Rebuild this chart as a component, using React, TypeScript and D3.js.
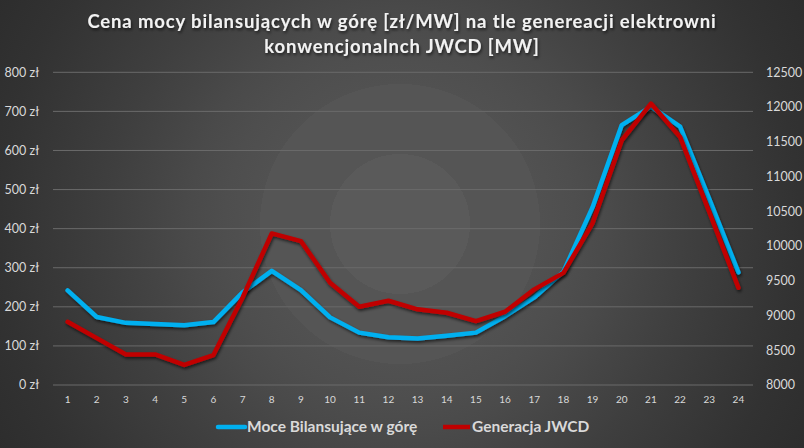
import React, { useRef, useEffect } from 'react';
import * as d3 from 'd3';

const hours = ['1', '2', '3', '4', '5', '6', '7', '8', '9', '10', '11', '12', '13', '14', '15', '16', '17', '18', '19', '20', '21', '22', '23', '24'];
// Cena mocy bilansujących w górę [zł/MW] - lewa oś
const priceUp = [242, 174, 159, 156, 153, 161, 237, 292, 243, 173, 134, 122, 119, 126, 134, 176, 224, 290, 455, 665, 712, 661, 476, 288];
// Generacja JWCD [MW] - prawa oś
const jwcd = [8910, 8675, 8440, 8440, 8288, 8431, 9260, 10181, 10070, 9471, 9126, 9212, 9089, 9040, 8920, 9054, 9376, 9614, 10330, 11522, 12050, 11570, 10490, 9399];
const leftTicks = [0, 100, 200, 300, 400, 500, 600, 700, 800];
const rightTicks = [8000, 8500, 9000, 9500, 10000, 10500, 11000, 11500, 12000, 12500];
const titleLines = ['Cena mocy bilansujących w górę [zł/MW] na tle genereacji elektrowni', 'konwencjonalnch JWCD [MW]'];
const seriesNames = ['Moce Bilansujące w górę', 'Generacja JWCD'];
const colors = ['#00b0f0', '#c00000'];

const W = 804;
const H = 448;
const FONT = 'Lato, "Open Sans", sans-serif';

const App: React.FC = () => {
  const svgRef = useRef<SVGSVGElement>(null);

  useEffect(() => {
    const svg = d3.select(svgRef.current);
    svg.selectAll('*').remove();

    const plot = { left: 53, right: 753, top: 72.3, bottom: 385 };

    const defs = svg.append('defs');

    // tło: koncentryczne pierścienie
    const bg = defs.append('radialGradient')
      .attr('id', 'bg')
      .attr('gradientUnits', 'userSpaceOnUse')
      .attr('cx', 400).attr('cy', 224).attr('r', 520);
    const rings: [number, string][] = [
      [0, '#5a5a5a'], [70, '#5a5a5a'], [70, '#555555'], [140, '#555555'], [140, '#515151'],
      [175, '#4e4e4e'], [210, '#4a4a4a'], [245, '#454545'], [290, '#3f3f3f'],
      [340, '#393939'], [400, '#323232'], [520, '#282828']
    ];
    rings.forEach(([r, c]) => {
      bg.append('stop').attr('offset', r / 520).attr('stop-color', c);
    });

    const shadow = defs.append('filter').attr('id', 'shadow')
      .attr('x', '-10%').attr('y', '-10%').attr('width', '120%').attr('height', '130%');
    shadow.append('feDropShadow')
      .attr('dx', 1).attr('dy', 2).attr('stdDeviation', 1.5)
      .attr('flood-color', '#000').attr('flood-opacity', 0.6);

    svg.append('rect')
      .attr('width', W).attr('height', H)
      .attr('fill', 'url(#bg)');

    const x = d3.scalePoint<string>()
      .domain(hours)
      .range([plot.left, plot.right])
      .padding(0.5);

    const yLeft = d3.scaleLinear().domain([0, 800]).range([plot.bottom, plot.top]);
    const yRight = d3.scaleLinear().domain([8000, 12500]).range([plot.bottom, plot.top]);

    // siatka
    svg.append('g')
      .selectAll('line')
      .data(leftTicks)
      .enter().append('line')
      .attr('x1', plot.left).attr('x2', plot.right)
      .attr('y1', d => yLeft(d)).attr('y2', d => yLeft(d))
      .attr('stroke', '#6a6a6a')
      .attr('stroke-width', 1);

    // etykiety osi
    svg.append('g')
      .selectAll('text')
      .data(leftTicks)
      .enter().append('text')
      .attr('x', 39)
      .attr('y', d => yLeft(d))
      .attr('dy', '0.35em')
      .attr('text-anchor', 'end')
      .style('font-family', FONT)
      .style('font-size', '12.5px')
      .style('fill', '#d9d9d9')
      .text(d => `${d} zł`);

    svg.append('g')
      .selectAll('text')
      .data(rightTicks)
      .enter().append('text')
      .attr('x', 766)
      .attr('y', d => yRight(d))
      .attr('dy', '0.35em')
      .style('font-family', FONT)
      .style('font-size', '12.5px')
      .style('fill', '#d9d9d9')
      .text(d => `${d}`);

    svg.append('g')
      .selectAll('text')
      .data(hours)
      .enter().append('text')
      .attr('x', d => x(d) as number)
      .attr('y', 399)
      .attr('dy', '0.35em')
      .attr('text-anchor', 'middle')
      .style('font-family', FONT)
      .style('font-size', '10px')
      .style('fill', '#d9d9d9')
      .text(d => d);

    // linie
    const lineLeft = d3.line<number>()
      .x((_, i) => x(hours[i]) as number)
      .y(d => yLeft(d));
    const lineRight = d3.line<number>()
      .x((_, i) => x(hours[i]) as number)
      .y(d => yRight(d));

    svg.append('path')
      .datum(priceUp)
      .attr('fill', 'none')
      .attr('stroke', colors[0])
      .attr('stroke-width', 4.5)
      .attr('stroke-linejoin', 'round')
      .attr('stroke-linecap', 'round')
      .attr('filter', 'url(#shadow)')
      .attr('d', lineLeft);

    svg.append('path')
      .datum(jwcd)
      .attr('fill', 'none')
      .attr('stroke', colors[1])
      .attr('stroke-width', 4.5)
      .attr('stroke-linejoin', 'round')
      .attr('stroke-linecap', 'round')
      .attr('filter', 'url(#shadow)')
      .attr('d', lineRight);

    // tytuł
    svg.append('g')
      .selectAll('text')
      .data(titleLines)
      .enter().append('text')
      .attr('x', 402)
      .attr('y', (_, i) => 28 + i * 25)
      .attr('text-anchor', 'middle')
      .attr('filter', 'url(#shadow)')
      .style('font-family', FONT)
      .style('font-size', '18.5px')
      .style('font-weight', 'bold')
      .style('letter-spacing', '0.85px')
      .style('fill', '#f2f2f2')
      .text(d => d);

    // legenda
    const legendX = [218, 443];
    const legend = svg.append('g');
    seriesNames.forEach((name, i) => {
      legend.append('line')
        .attr('x1', legendX[i]).attr('x2', legendX[i] + 27)
        .attr('y1', 427).attr('y2', 427)
        .attr('stroke', colors[i])
        .attr('stroke-width', 4.5)
        .attr('stroke-linecap', i === 0 ? 'round' : 'butt');
      legend.append('text')
        .attr('x', legendX[i] + 29)
        .attr('y', 427)
        .attr('dy', '0.35em')
        .style('font-family', FONT)
        .style('font-size', '15.5px')
        .style('font-weight', 'bold')
        .style('fill', '#d9d9d9')
        .text(name);
    });
  }, []);

  return (
    <svg
      ref={svgRef}
      width={W}
      height={H}
      style={{ position: 'absolute', left: 0, top: 0, display: 'block' }}
    />
  );
};

export default App;
